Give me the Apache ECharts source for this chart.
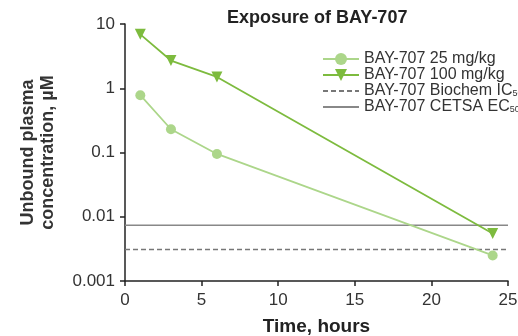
<!DOCTYPE html>
<html>
<head>
<meta charset="utf-8">
<script src="https://cdn.jsdelivr.net/npm/echarts@6/dist/echarts.min.js"></script>
<style>
  html, body { margin: 0; padding: 0; background: #fff; }
  #chart { width: 518px; height: 336px; }
</style>
</head>
<body>
<div id="chart"></div>
<script>
const hours = [1, 3, 6, 24]
const dose25 = [0.78, 0.23, 0.095, 0.0025]
const dose100 = [6.9, 2.7, 1.5, 0.0055]
const biochemIC50 = 0.0031
const cetsaEC50 = 0.0074
const lineSpan = [0, 25]
const yTicks = [0.001, 0.01, 0.1, 1, 10]

const chart = echarts.init(document.getElementById('chart'))
const font = '"Liberation Sans", Arial, sans-serif'

const pairs = (xs, ys) => xs.map((x, i) => [x, ys[i]])

chart.setOption({
  animation: false,
  textStyle: { fontFamily: font },
  title: {
    text: 'Exposure of BAY-707',
    left: 227,
    top: 9,
    padding: 0,
    textStyle: { fontSize: 18, fontWeight: 'bold', color: '#222', fontFamily: font }
  },
  legend: {
    orient: 'vertical',
    left: 322,
    top: 51,
    padding: 0,
    itemGap: 0,
    itemWidth: 36,
    itemHeight: 15,
    textStyle: {
      fontSize: 16,
      color: '#333',
      fontFamily: font,
      lineHeight: 15,
      rich: {
        m: { fontSize: 16, color: '#333', fontFamily: font, lineHeight: 15 },
        s: { fontSize: 9, color: '#333', fontFamily: font, lineHeight: 9, padding: [6, 0, 0, 0] }
      }
    },
    formatter: (name) => {
      const m = name.match(/^(.*)(50)$/)
      if (m) return '{m|' + m[1] + '}{s|50}'
      return name
    },
    data: [
      { name: 'BAY-707 25 mg/kg' },
      { name: 'BAY-707 100 mg/kg' },
      { name: 'BAY-707 Biochem IC50', itemStyle: { opacity: 0 } },
      { name: 'BAY-707 CETSA EC50', itemStyle: { opacity: 0 } }
    ]
  },
  grid: { left: 125, right: 10, top: 24, bottom: 55, outerBoundsMode: 'none' },
  xAxis: {
    type: 'value',
    min: 0,
    max: 25,
    interval: 5,
    name: 'Time, hours',
    nameLocation: 'middle',
    nameGap: 36,
    nameTextStyle: { fontSize: 19, fontWeight: 'bold', color: '#222' },
    axisLine: { lineStyle: { color: '#222', width: 1.5 } },
    axisTick: { length: 5, lineStyle: { color: '#222', width: 1.5 } },
    axisLabel: { fontSize: 17, color: '#333', margin: 11 },
    splitLine: { show: false }
  },
  yAxis: {
    type: 'log',
    logBase: 10,
    min: yTicks[0],
    max: yTicks[yTicks.length - 1],
    name: 'Unbound plasma\nconcentration, µM',
    nameLocation: 'middle',
    nameGap: 67,
    nameTextStyle: { fontSize: 18, fontWeight: 'bold', color: '#333', lineHeight: 20 },
    axisLine: { show: true, lineStyle: { color: '#222', width: 1.5 } },
    axisTick: { show: true, length: 5, lineStyle: { color: '#222', width: 1.5 } },
    axisLabel: { fontSize: 17, color: '#333', margin: 10, formatter: (v) => String(v) },
    splitLine: { show: false }
  },
  series: [
    {
      name: 'BAY-707 CETSA EC50',
      type: 'line',
      data: pairs(lineSpan, [cetsaEC50, cetsaEC50]),
      symbol: 'none',
      lineStyle: { color: '#888', width: 1.5 },
      itemStyle: { color: '#888' }
    },
    {
      name: 'BAY-707 Biochem IC50',
      type: 'line',
      data: pairs(lineSpan, [biochemIC50, biochemIC50]),
      symbol: 'none',
      lineStyle: { color: '#777', width: 1.5, type: [5, 3] },
      itemStyle: { color: '#777' }
    },
    {
      name: 'BAY-707 25 mg/kg',
      type: 'line',
      data: pairs(hours, dose25),
      symbol: 'circle',
      symbolSize: 10,
      lineStyle: { color: '#acd68a', width: 1.8 },
      itemStyle: { color: '#acd68a' }
    },
    {
      name: 'BAY-707 100 mg/kg',
      type: 'line',
      data: pairs(hours, dose100),
      symbol: 'triangle',
      symbolRotate: 180,
      symbolSize: 11,
      lineStyle: { color: '#7dbb3e', width: 1.8 },
      itemStyle: { color: '#7dbb3e' }
    }
  ]
})
</script>
</body>
</html>
